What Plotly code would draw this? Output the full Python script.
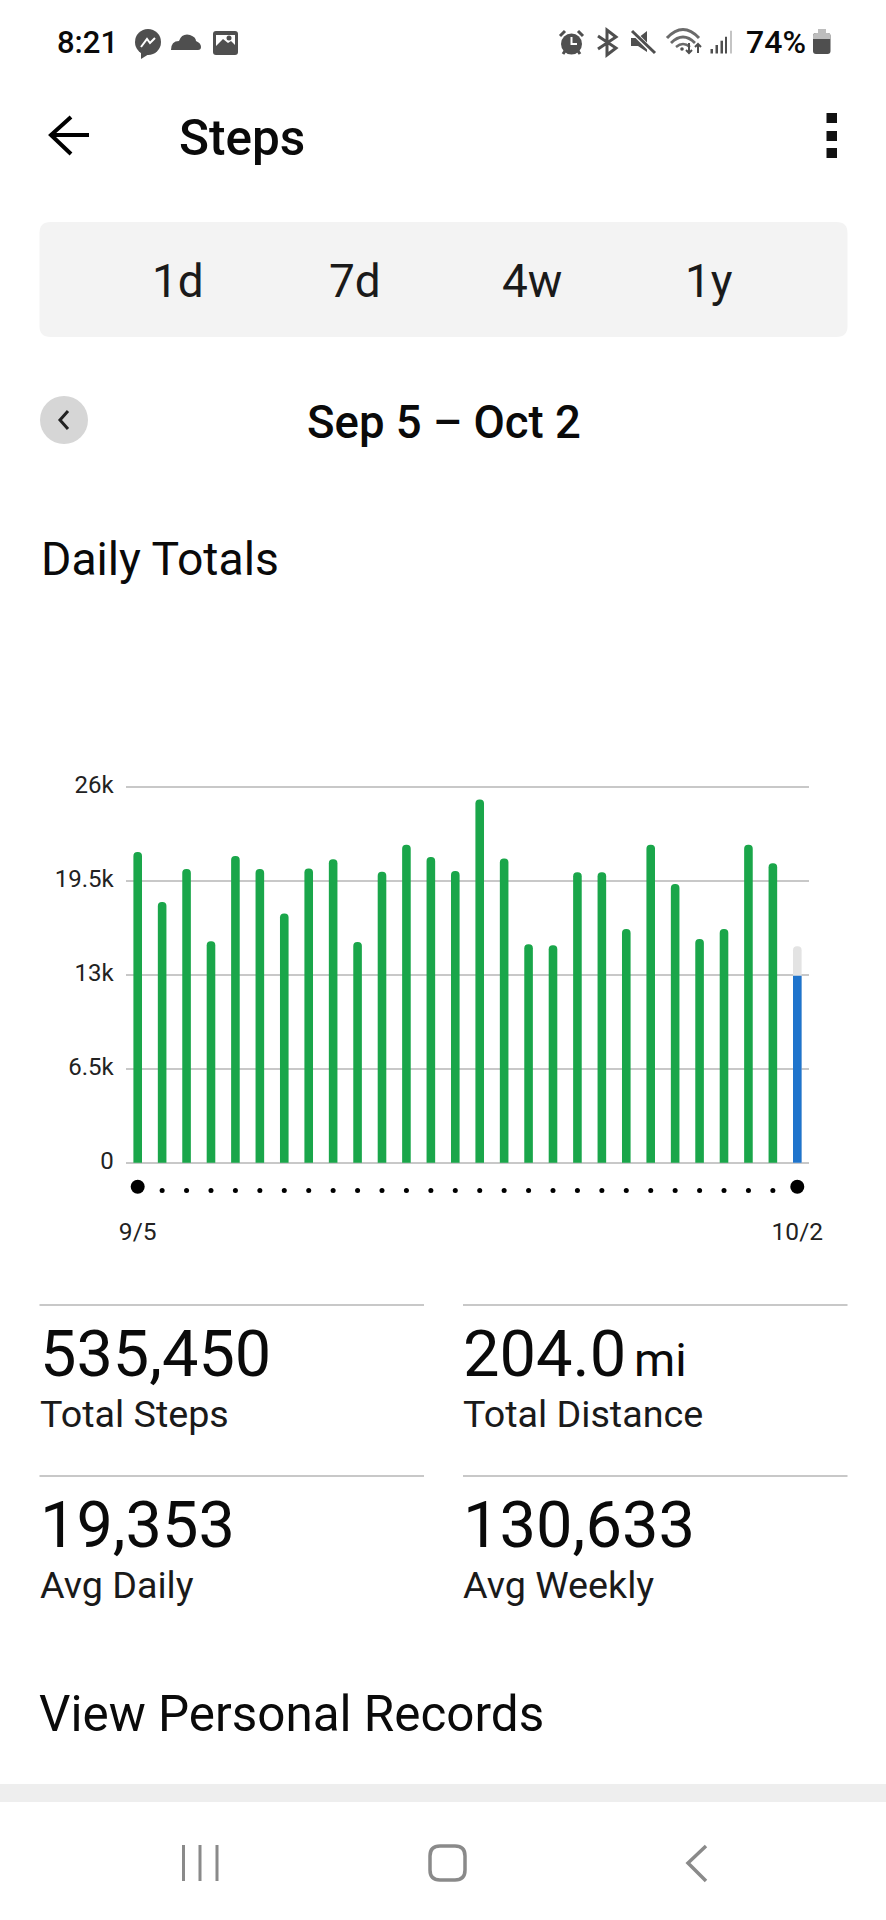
import plotly.graph_objects as go

# page is a phone screenshot, all overlay items below are in screen pixels
W, H = 886, 1920
FONT = "Roboto"
INK = "#0a0a0a"
SUB = "#1a1a1a"
ICON = "#4f4f4f"
RULE = "#c8c8c8"

day_labels = ["9/5", "9/6", "9/7", "9/8", "9/9", "9/10", "9/11", "9/12", "9/13", "9/14",
              "9/15", "9/16", "9/17", "9/18", "9/19", "9/20", "9/21", "9/22", "9/23", "9/24",
              "9/25", "9/26", "9/27", "9/28", "9/29", "9/30", "10/1", "10/2"]
steps = [21480, 18030, 20310, 15310, 21210, 20310, 17240, 20350, 20980, 15260,
         20120, 21990, 21140, 20170, 25120, 21040, 15100, 15030, 20080, 20080,
         16160, 21990, 19270, 15470, 16160, 21990, 20700]
today_steps = 12930
today_goal = 14960
y_ticks = [0, 6500, 13000, 19500, 26000]
y_tick_labels = ["0", "6.5k", "13k", "19.5k", "26k"]
x_tick_days = ["9/5", "10/2"]

range_tabs = ["1d", "7d", "4w", "1y"]
tab_centers = [177.5, 354.5, 532, 708.5]

# chart box, screen pixels (PAD keeps the 0 and 26k grid lines off the axis edge)
PAD = 4
PLOT_L, PLOT_R = 125.7, 809.3
PLOT_T, PLOT_B = 786.7, 1162.7
STRIP_T, STRIP_B = 1176, 1200
FIRST_BAR, LAST_BAR = 137.7, 797.3
bar_gap = (LAST_BAR - FIRST_BAR) / (len(day_labels) - 1)
x_lo = -(FIRST_BAR - PLOT_L) / bar_gap
x_hi = len(day_labels) - 1 + (PLOT_R - LAST_BAR) / bar_gap
bar_w = 8.6 / bar_gap
y_pad = PAD * 26000 / (PLOT_B - PLOT_T)

fig = go.Figure()

fig.add_trace(go.Bar(x=day_labels[:-1], y=steps, width=bar_w, marker_color="#1aa64a",
                     marker_cornerradius=4, marker_line_width=0))
fig.add_trace(go.Bar(x=day_labels[-1:], y=[today_goal], width=bar_w, marker_color="#e3e3e3",
                     marker_cornerradius=4, marker_line_width=0))
fig.add_trace(go.Bar(x=day_labels[-1:], y=[today_steps], width=bar_w, marker_color="#1f74cc",
                     marker_cornerradius=4, marker_line_width=0))

# day dots under the bars
fig.add_trace(go.Scatter(x=day_labels[1:-1], y=[0.4] * 26, mode="markers", xaxis="x2", yaxis="y2",
                         marker=dict(size=5, color="#000000")))
fig.add_trace(go.Scatter(x=x_tick_days, y=[0.55, 0.55], mode="markers", xaxis="x2", yaxis="y2",
                         marker=dict(size=14, color="#000000")))
# keeps the overlay axes alive
fig.add_trace(go.Scatter(x=[0], y=[0], mode="markers", xaxis="x3", yaxis="y3",
                         marker=dict(size=1, opacity=0), hoverinfo="skip"))

shapes = []


def box(x0, y0, x1, y1, color):
    shapes.append(dict(type="rect", xref="x3", yref="y3", x0=x0, y0=y0, x1=x1, y1=y1,
                       fillcolor=color, line_width=0, layer="above"))


def stroke(path, color=ICON, width=2.5):
    shapes.append(dict(type="path", xref="x3", yref="y3", path=path, line=dict(color=color, width=width),
                       layer="above"))


def fill(path, color=ICON):
    shapes.append(dict(type="path", xref="x3", yref="y3", path=path, fillcolor=color, line_width=0,
                       layer="above"))


def oval(cx, cy, r, color):
    shapes.append(dict(type="circle", xref="x3", yref="y3", x0=cx - r, y0=cy - r, x1=cx + r, y1=cy + r,
                       fillcolor=color, line_width=0, layer="above"))


def rounded(x0, y0, x1, y1, r):
    return (f"M {x0+r} {y0} L {x1-r} {y0} Q {x1} {y0} {x1} {y0+r} L {x1} {y1-r} Q {x1} {y1} {x1-r} {y1} "
            f"L {x0+r} {y1} Q {x0} {y1} {x0} {y1-r} L {x0} {y0+r} Q {x0} {y0} {x0+r} {y0} Z")


notes = []


def label(x, y, text, size, anchor="left", color=INK, weight=400):
    notes.append(dict(xref="x3", yref="y3", x=x, y=y, text=text, showarrow=False, xanchor=anchor,
                      yanchor="middle", borderpad=0, font=dict(family=FONT, size=size, color=color, weight=weight)))


# status bar
label(56, 42, "8:21", 31, weight=500)
oval(148, 42, 13, ICON)
fill("M 141 52 L 141 59 L 149 54 Z")
stroke("M 141 47 L 147 39 L 150 43 L 155 38", "#ffffff", 2)
fill("M 171 50 Q 171 41 179 41 Q 182 33 190 35 Q 196 37 196 41 Q 201 43 201 47 Q 201 50 198 50 Z")
fill(rounded(213, 31, 238, 55, 3))
fill("M 216 35 L 235 35 L 235 46 L 216 46 Z", "#ffffff")
fill("M 216 46 L 223 39 L 228 43 L 231 41 L 235 45 L 235 51 L 216 51 Z", ICON)
oval(229, 38, 2.5, ICON)

oval(571.5, 44, 10.5, ICON)
stroke("M 571.5 37 L 571.5 44 L 577 44", "#ffffff", 2)
stroke("M 560 36 L 565 31 M 578 31 L 583 36 M 563 54 L 565 51 M 580 54 L 578 51", ICON, 3)
stroke("M 598 36 L 616 48 L 607 55 L 607 30 L 616 37 L 598 49", ICON, 3)
fill("M 631 38 L 638 38 L 647 31 L 647 52 L 638 46 L 631 46 Z")
stroke("M 632 31 L 655 54", "#ffffff", 5)
stroke("M 632 31 L 655 53", ICON, 3)
stroke("M 667 38 Q 683 21 699 38", "#6a6a6a", 3)
stroke("M 671 43 Q 683 31 695 43", "#6a6a6a", 2.8)
stroke("M 676 47 Q 683 41 690 47", "#6a6a6a", 2.4)
oval(682, 49, 1.8, ICON)
stroke("M 689 43 L 689 53 M 686 50 L 689 53 L 692 50", ICON, 2)
stroke("M 698 53 L 698 44 M 695 47 L 698 44 L 701 47", ICON, 2)
box(710.5, 49, 713, 53.5, ICON)
box(715.5, 45, 718, 53.5, ICON)
box(720.5, 40.7, 723, 53.5, ICON)
box(725, 36.7, 727, 53.5, ICON)
box(730, 30.7, 732, 53.5, "#c4c4c4")
label(745, 42, "74%", 32, weight=500)
fill(rounded(813, 33, 830.5, 54, 3))
fill("M 813 39 L 813 36 Q 813 33 816 33 L 818 33 L 818 29 L 826 29 L 826 33 L 828 33 Q 830.5 33 830.5 36 L 830.5 39 Z", "#bdbdbd")

# app bar
stroke("M 89 135 L 51 135 M 71 117 L 51 135 L 71 154", "#000000", 4)
label(178, 138, "Steps", 49.5, weight=500)
box(826.5, 113, 837, 123, "#111111")
box(826.5, 131, 837, 141, "#111111")
box(826.5, 148, 837, 158, "#111111")

# range tabs
fill(rounded(39.5, 222, 847.5, 337, 11), "#f3f3f3")
for tab, cx in zip(range_tabs, tab_centers):
    label(cx, 281, tab, 46, anchor="center", color=SUB)

# date row
oval(64, 420, 24, "#d6d6d6")
stroke("M 68 411 L 60 420 L 68 429", "#222222", 3)
label(443.5, 422, "Sep 5 – Oct 2", 45.5, anchor="center", weight=500)
label(40, 559, "Daily Totals", 46.3)

# stat tiles
for x0, x1 in [(39.5, 424), (463, 847.5)]:
    box(x0, 1304, x1, 1306, RULE)
    box(x0, 1475, x1, 1477, RULE)
label(38.5, 1354, "535,450", 64.8)
label(38.5, 1414, "Total Steps", 37.7, color=SUB)
label(462, 1354, "204.0", 65)
label(633, 1359, "mi", 47)
label(462, 1414, "Total Distance", 37.7, color=SUB)
label(38.5, 1525, "19,353", 64.8)
label(38.5, 1585, "Avg Daily", 37.7, color=SUB)
label(462, 1525, "130,633", 65)
label(462, 1585, "Avg Weekly", 37.7, color=SUB)
label(38, 1714, "View Personal Records", 49.4)

# bottom nav
box(0, 1784, W, 1802, "#eeeeee")
stroke("M 183.5 1845 L 183.5 1881 M 200 1845 L 200 1881 M 217 1845 L 217 1881", "#8a8a8a", 3)
stroke(rounded(430, 1846, 465, 1880, 10), "#8a8a8a", 3.5)
stroke("M 706 1846 L 688 1863 L 706 1881", "#8a8a8a", 3.5)

fig.update_layout(
    width=W, height=H, margin=dict(l=0, r=0, t=0, b=0, pad=0), autosize=False,
    template="none",
    paper_bgcolor="#ffffff", plot_bgcolor="rgba(0,0,0,0)",
    barmode="overlay", showlegend=False, font=dict(family=FONT),
    shapes=shapes, annotations=notes,
    xaxis=dict(domain=[PLOT_L / W, PLOT_R / W], type="category", categoryorder="array", categoryarray=day_labels,
               range=[x_lo, x_hi], showticklabels=False, showgrid=False, zeroline=False, ticks="", automargin=False),
    yaxis=dict(domain=[1 - (PLOT_B + PAD) / H, 1 - (PLOT_T - PAD) / H], range=[-y_pad, 26000 + y_pad],
               tickvals=y_ticks, ticktext=y_tick_labels,
               tickfont=dict(family=FONT, size=24, color="#222222"), ticks="", ticklabelstandoff=11,
               ticklabelshift=-2, gridcolor=RULE, gridwidth=2.4, zeroline=False, showline=False, automargin=False),
    xaxis2=dict(domain=[PLOT_L / W, PLOT_R / W], anchor="y2", type="category", categoryorder="array",
                categoryarray=day_labels, range=[x_lo, x_hi], tickmode="array", tickvals=x_tick_days,
                ticktext=x_tick_days, tickfont=dict(family=FONT, size=24.5, color="#222222"), ticks="",
                ticklabelstandoff=14, showgrid=False, zeroline=False, showline=False, automargin=False),
    yaxis2=dict(domain=[1 - STRIP_B / H, 1 - STRIP_T / H], anchor="x2", range=[0, 1], visible=False, automargin=False),
    xaxis3=dict(domain=[0, 1], range=[0, W], visible=False, anchor="y3", automargin=False),
    yaxis3=dict(domain=[0, 1], range=[H, 0], visible=False, anchor="x3", automargin=False),
)

fig.write_html("out.html", config={"displayModeBar": False},
               post_script="document.body.style.margin='0';")
